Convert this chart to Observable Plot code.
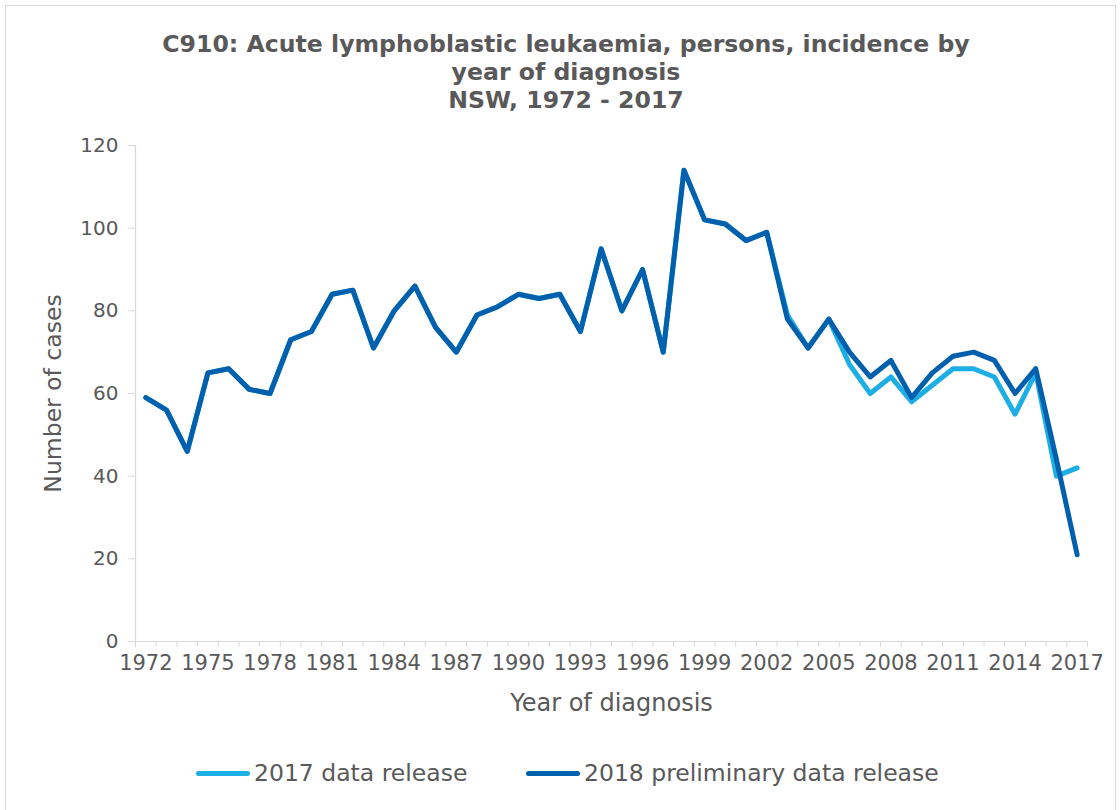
<!DOCTYPE html>
<html>
<head>
<meta charset="utf-8">
<script src="https://cdn.jsdelivr.net/npm/d3@7"></script>
<script src="https://cdn.jsdelivr.net/npm/@observablehq/plot@0.6"></script>
<style>
  body { margin: 0; background: #fff; font-family: "DejaVu Sans", Verdana, sans-serif; }
  #frame { position: absolute; left: 5px; top: 5px; width: 1111px; height: 812px; border: 1px solid #d9d9d9; box-sizing: border-box; }
  #title { position: absolute; left: 0; top: 30px; width: 1132px; text-align: center; font-weight: bold; font-size: 23.6px; line-height: 28px; color: #595959; }
  #chart { position: absolute; left: 0; top: 120px; }
  [aria-label$="-axis tick"] { stroke: #d9d9d9; }
  .leg { position: absolute; top: 759px; height: 28px; display: flex; align-items: center; font-size: 23.5px; color: #595959; white-space: nowrap; }
  .sw { width: 54px; height: 5px; border-radius: 3px; margin-right: 4px; }
</style>
</head>
<body>
<div id="frame"></div>
<div id="title">C910: Acute lymphoblastic leukaemia, persons, incidence by<br>year of diagnosis<br>NSW, 1972 - 2017</div>
<div id="chart"></div>
<div class="leg" style="left:196px"><div class="sw" style="background:#1eaee6"></div><span id="l1"></span></div>
<div class="leg" style="left:526px"><div class="sw" style="background:#0060ad"></div><span id="l2"></span></div>
<script>
const years = [1972,1973,1974,1975,1976,1977,1978,1979,1980,1981,1982,1983,1984,1985,1986,1987,1988,1989,1990,1991,1992,1993,1994,1995,1996,1997,1998,1999,2000,2001,2002,2003,2004,2005,2006,2007,2008,2009,2010,2011,2012,2013,2014,2015,2016,2017];
const release2017 = [59,56,46,65,66,61,60,73,75,84,85,71,80,86,76,70,79,81,84,83,84,75,95,80,90,70,114,102,101,97,99,79,71,78,67,60,64,58,62,66,66,64,55,65,40,42];
const release2018 = [59,56,46,65,66,61,60,73,75,84,85,71,80,86,76,70,79,81,84,83,84,75,95,80,90,70,114,102,101,97,99,78,71,78,70,64,68,59,65,69,70,68,60,66,44,21];
const seriesNames = ["2017 data release", "2018 preliminary data release"];
const xLabelYears = [1972,1975,1978,1981,1984,1987,1990,1993,1996,1999,2002,2005,2008,2011,2014,2017];
const yTicks = [0,20,40,60,80,100,120];

document.getElementById("l1").textContent = seriesNames[0];
document.getElementById("l2").textContent = seriesNames[1];

const rows2017 = years.map((y, i) => ({year: y, value: release2017[i]}));
const rows2018 = years.map((y, i) => ({year: y, value: release2018[i]}));
const boundaries = [years[0] - 0.5, ...years.map(y => y + 0.5)];

const chart = Plot.plot({
  width: 1120,
  height: 610,
  marginLeft: 135,
  marginRight: 33,
  marginTop: 25,
  marginBottom: 89,
  style: {fontFamily: "DejaVu Sans, Verdana, sans-serif", fontSize: "20px", color: "#595959", background: "transparent", overflow: "visible"},
  x: {type: "linear", domain: [boundaries[0], boundaries[boundaries.length - 1]], ticks: boundaries, tickFormat: () => "", tickSize: 6, label: null},
  y: {domain: [0, 120], ticks: yTicks, tickSize: 7, tickPadding: 10, label: null},
  marks: [
    Plot.ruleY([0], {stroke: "#d9d9d9", strokeWidth: 1.2}),
    Plot.ruleX([boundaries[0]], {stroke: "#d9d9d9", strokeWidth: 1.2}),
    Plot.text(xLabelYears, {x: d => d, text: d => String(d), frameAnchor: "bottom", lineAnchor: "middle", dy: 22, fill: "#595959", fontSize: 21}),
    Plot.text(["Year of diagnosis"], {frameAnchor: "bottom", lineAnchor: "middle", dy: 62, fill: "#595959", fontSize: 24}),
    Plot.text(["Number of cases"], {frameAnchor: "left", textAnchor: "middle", lineAnchor: "middle", dx: -82, rotate: -90, fill: "#595959", fontSize: 23.5}),
    Plot.line(rows2017, {x: "year", y: "value", stroke: "#1eaee6", strokeWidth: 5, strokeLinejoin: "round", strokeLinecap: "round"}),
    Plot.line(rows2018, {x: "year", y: "value", stroke: "#0060ad", strokeWidth: 5, strokeLinejoin: "round", strokeLinecap: "round"})
  ]
});
document.getElementById("chart").appendChild(chart);
</script>
</body>
</html>
